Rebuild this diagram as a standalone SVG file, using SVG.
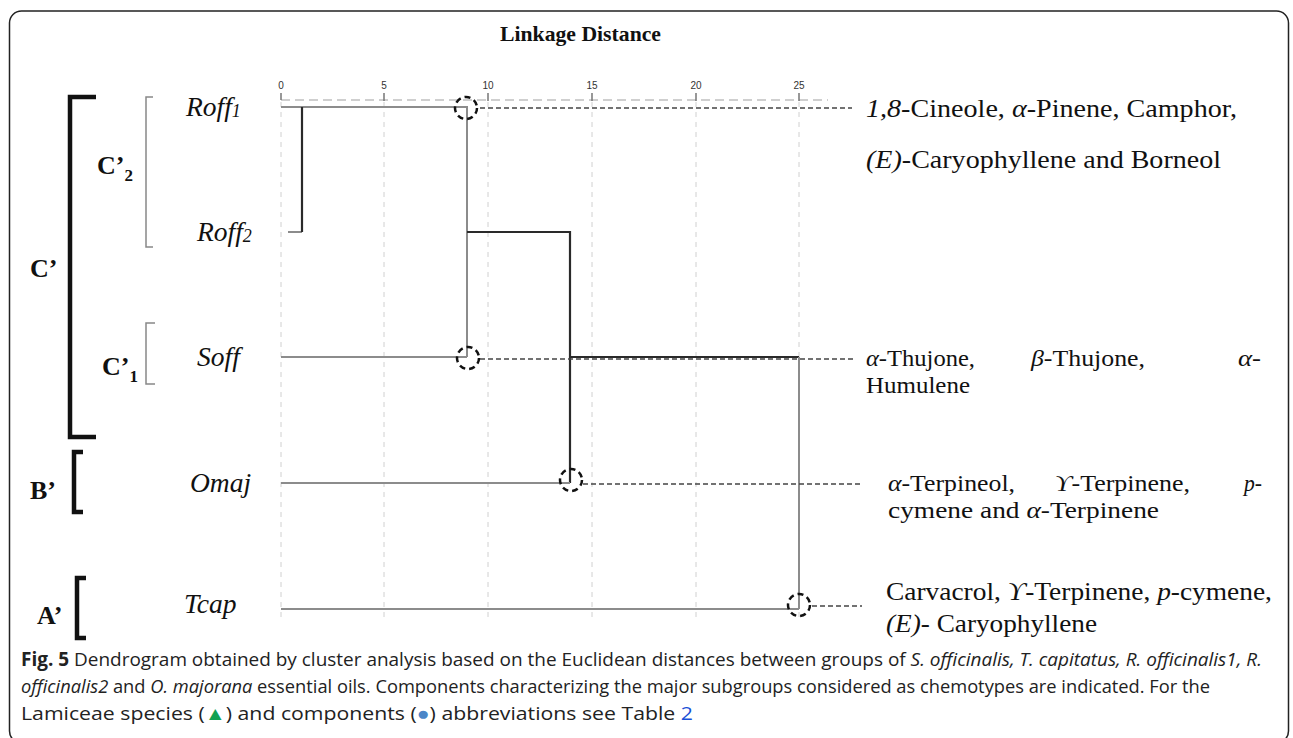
<svg xmlns="http://www.w3.org/2000/svg" width="1293" height="738" viewBox="0 0 1293 738">
<style>
.serif{font-family:"Liberation Serif","Times New Roman",serif;fill:#111}
.it{font-style:italic}
.bold{font-weight:bold}
.tick{font-family:"Liberation Sans",Arial,sans-serif;font-size:10px;fill:#333;text-anchor:middle}
.grid{stroke:#d0d0d0;stroke-width:1;stroke-dasharray:5,5;fill:none}
.gl{stroke:#8c8c8c;stroke-width:2;fill:none}
.bl{stroke:#2a2a2a;stroke-width:2.2;fill:none}
.circ{stroke:#111;stroke-width:2.5;stroke-dasharray:6,4;fill:none}
.dash{stroke:#444;stroke-width:1.6;stroke-dasharray:5,3;fill:none}
.thick{stroke:#111;stroke-width:4.5;fill:none}
.thin{stroke:#888;stroke-width:1.5;fill:none}
.cap{font-family:"Open Sans","Noto Sans",sans-serif;font-size:19px;fill:#222}
.leaf{font-size:27.5px}
.chem{font-size:26px}
.chem2{font-size:22.5px}
</style>
<rect x="9.5" y="11" width="1279" height="732" rx="12" fill="#fff" stroke="#222" stroke-width="1.5"/>

<g id="axis">
<text class="serif bold" x="500" y="41" font-size="21" textLength="161" lengthAdjust="spacingAndGlyphs">Linkage Distance</text>
<text class="tick" x="281" y="89">0</text>
<text class="tick" x="384" y="89">5</text>
<text class="tick" x="488" y="89">10</text>
<text class="tick" x="592" y="89">15</text>
<text class="tick" x="696" y="89">20</text>
<text class="tick" x="799" y="89">25</text>
<line x1="281" y1="100" x2="828" y2="100" stroke="#cfcfcf" stroke-width="2" stroke-dasharray="9,5"/>
<path d="M281 93V100M384 93V101M488 93V101M592 93V101M696 93V101M799 93V101" stroke="#777" stroke-width="1.5"/>
<path class="grid" d="M281 102V620M384 102V620M488 102V620M592 102V620M696 102V620M799 102V620"/>
</g>

<g id="connectors">
<path class="gl" d="M281 107H467V357"/>
<path class="gl" d="M288 232H302"/>
<path class="bl" d="M302 107V232" stroke-width="2.8"/>
<path class="bl" d="M467 232H570V483"/>
<path class="gl" d="M281 357H467"/>
<path class="bl" d="M570 357H799"/>
<path class="gl" d="M799 357V609"/>
<path class="gl" d="M281 483H570"/>
<path class="gl" d="M281 609H799"/>
<path class="dash" d="M480 108H852"/>
<path class="dash" d="M480 359H855"/>
<path class="dash" d="M583 484H862"/>
<path class="dash" d="M812 606H862"/>
<circle class="circ" cx="466" cy="108" r="11"/>
<circle class="circ" cx="468" cy="358" r="11"/>
<circle class="circ" cx="571" cy="480" r="11"/>
<circle class="circ" cx="799" cy="605" r="11"/>
</g>

<g id="cluster-C">
<path class="thick" d="M96 97H70V437H96"/>
<text class="serif bold" x="30" y="277" font-size="26">C’</text>
</g>
<g id="cluster-C2">
<path class="thin" d="M153 97H146V247H153"/>
<text class="serif bold" x="97" y="174" font-size="26">C’<tspan font-size="17" dy="7">2</tspan></text>
</g>
<g id="cluster-C1">
<path class="thin" d="M155 323H146V384H155"/>
<text class="serif bold" x="102" y="375" font-size="26">C’<tspan font-size="17" dy="7">1</tspan></text>
</g>
<g id="cluster-B">
<path class="thick" d="M83 452H74V512H83"/>
<text class="serif bold" x="30" y="499" font-size="26">B’</text>
</g>
<g id="cluster-A">
<path class="thick" d="M86 578H77V638H86"/>
<text class="serif bold" x="37" y="624" font-size="26">A’</text>
</g>

<g id="leaf-Roff1"><text class="serif it leaf" x="186" y="116">Roff<tspan font-size="18" dy="1">1</tspan></text></g>
<g id="leaf-Roff2"><text class="serif it leaf" x="197" y="241">Roff<tspan font-size="18" dy="1">2</tspan></text></g>
<g id="leaf-Soff"><text class="serif it leaf" x="197" y="366">Soff</text></g>
<g id="leaf-Omaj"><text class="serif it leaf" x="190" y="492">Omaj</text></g>
<g id="leaf-Tcap"><text class="serif it leaf" x="184" y="613">Tcap</text></g>

<g id="chemo-C2">
<text class="serif chem" x="866" y="117" textLength="371" lengthAdjust="spacingAndGlyphs"><tspan class="it">1,8</tspan>-Cineole, <tspan class="it">α</tspan>-Pinene, Camphor,</text>
<text class="serif chem" x="866" y="168" textLength="355" lengthAdjust="spacingAndGlyphs"><tspan class="it">(E)</tspan>-Caryophyllene and Borneol</text>
</g>
<g id="chemo-C1">
<text class="serif chem2" x="866" y="366" textLength="109" lengthAdjust="spacingAndGlyphs"><tspan class="it">α</tspan>-Thujone,</text>
<text class="serif chem2" x="1031" y="366" textLength="114" lengthAdjust="spacingAndGlyphs"><tspan class="it">β</tspan>-Thujone,</text>
<text class="serif chem2" x="1238" y="366" textLength="23" lengthAdjust="spacingAndGlyphs"><tspan class="it">α</tspan>-</text>
<text class="serif chem2" x="866" y="393" textLength="104" lengthAdjust="spacingAndGlyphs">Humulene</text>
</g>
<g id="chemo-B">
<text class="serif chem2" x="888" y="491" textLength="127" lengthAdjust="spacingAndGlyphs"><tspan class="it">α</tspan>-Terpineol,</text>
<text class="serif chem2" x="1055" y="491" textLength="135" lengthAdjust="spacingAndGlyphs"><tspan class="it">ϒ</tspan>-Terpinene,</text>
<text class="serif chem2" x="1244" y="491" textLength="18" lengthAdjust="spacingAndGlyphs"><tspan class="it">p</tspan>-</text>
<text class="serif chem2" x="888" y="518" textLength="271" lengthAdjust="spacingAndGlyphs">cymene and <tspan class="it">α</tspan>-Terpinene</text>
</g>
<g id="chemo-A">
<text class="serif chem" x="886" y="600" textLength="386" lengthAdjust="spacingAndGlyphs">Carvacrol, <tspan class="it">ϒ</tspan>-Terpinene, <tspan class="it">p</tspan>-cymene,</text>
<text class="serif chem" x="886" y="632" textLength="211" lengthAdjust="spacingAndGlyphs"><tspan class="it">(E)</tspan>- Caryophyllene</text>
</g>

<g id="caption">
<text class="cap" x="21" y="666" textLength="1241" lengthAdjust="spacingAndGlyphs"><tspan font-weight="bold">Fig. 5</tspan> Dendrogram obtained by cluster analysis based on the Euclidean distances between groups of <tspan font-style="italic">S. officinalis, T. capitatus, R. officinalis1, R.</tspan></text>
<text class="cap" x="21" y="693" textLength="1189" lengthAdjust="spacingAndGlyphs"><tspan font-style="italic">officinalis2</tspan> and <tspan font-style="italic">O. majorana</tspan> essential oils. Components characterizing the major subgroups considered as chemotypes are indicated. For the</text>
<text class="cap" x="21" y="720" textLength="672" lengthAdjust="spacingAndGlyphs">Lamiceae species (<tspan fill="#12a150">▲</tspan>) and components (<tspan fill="#4a86c8">●</tspan>) abbreviations see Table <tspan fill="#1a4fd6">2</tspan></text>
</g>
</svg>
